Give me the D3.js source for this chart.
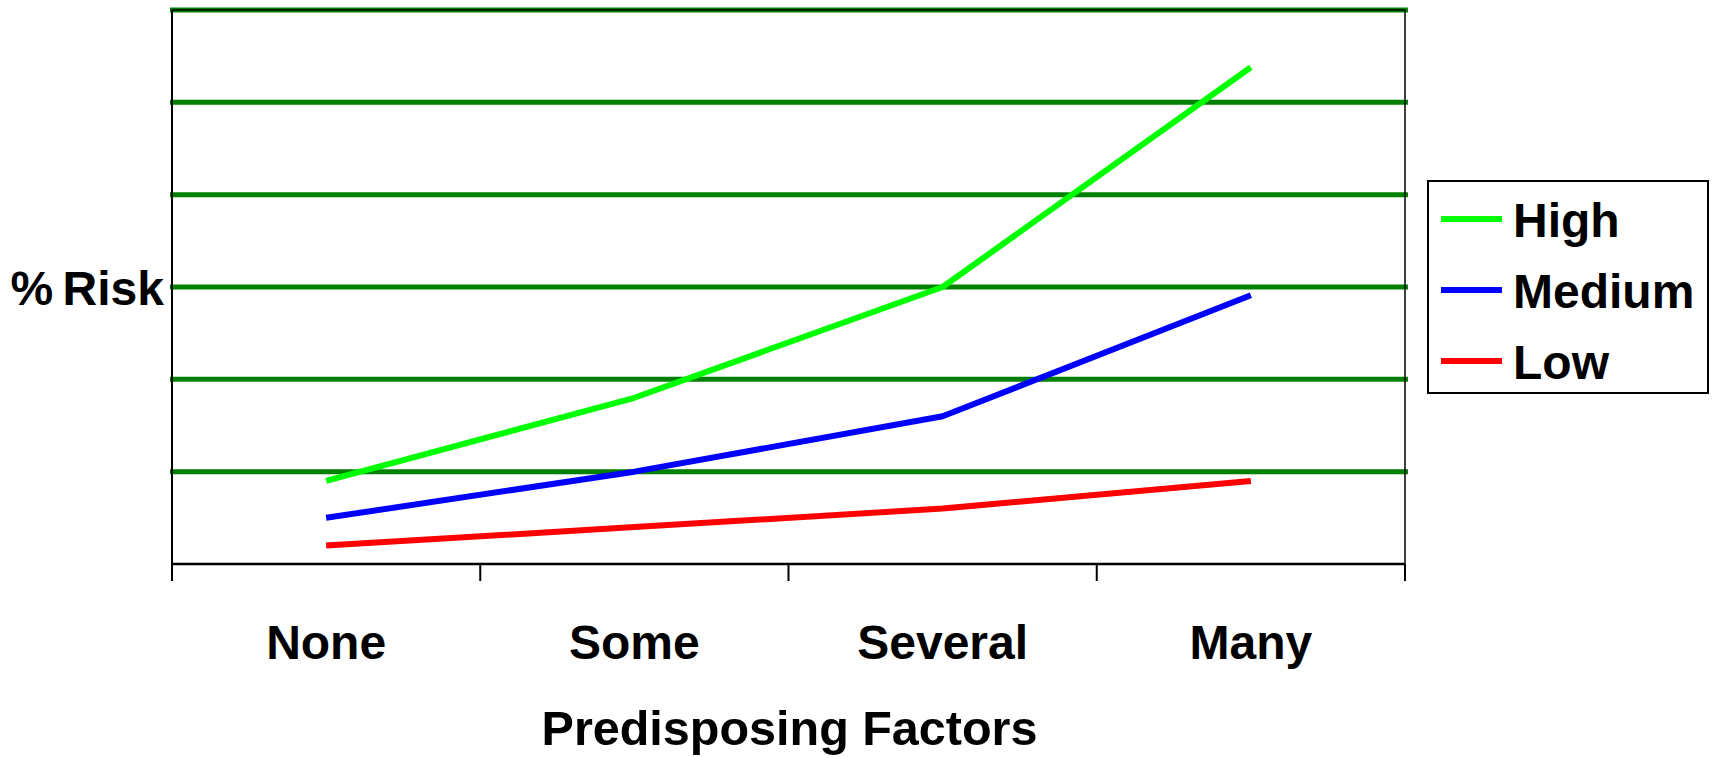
<!DOCTYPE html>
<html>
<head>
<meta charset="utf-8">
<script src="https://cdn.jsdelivr.net/npm/d3@7"></script>
<style>
  html, body { margin: 0; padding: 0; background: #fff; }
  svg { display: block; font-family: "Liberation Sans", Arial, sans-serif; font-weight: bold; }
</style>
</head>
<body>
<svg id="chart" width="1715" height="758"></svg>
<script>
const categories = ["None", "Some", "Several", "Many"];
const seriesNames = ["High", "Medium", "Low"];
const highValues = [0.9, 1.8, 3.0, 5.38];
const mediumValues = [0.5, 1.0, 1.6, 2.91];
const lowValues = [0.2, 0.4, 0.6, 0.9];
const seriesColors = ["#00ff00", "#0000ff", "#ff0000"];
const gridValues = [1, 2, 3, 4, 5, 6];
const yTitle = "% Risk";
const xTitle = "Predisposing Factors";

(function () {
const series = [
  { name: seriesNames[0], values: highValues, color: seriesColors[0] },
  { name: seriesNames[1], values: mediumValues, color: seriesColors[1] },
  { name: seriesNames[2], values: lowValues, color: seriesColors[2] }
];

const svg = d3.select("#chart");
const pLeft = 172, pRight = 1405, pTop = 10, pBottom = 564;

const x = d3.scaleBand().domain(categories).range([pLeft, pRight]).padding(0);
const xc = c => x(c) + x.bandwidth() / 2;
const y = d3.scaleLinear().domain([0, 6]).range([pBottom, pTop]);

// gridlines
svg.append("g").selectAll("line").data(gridValues).join("line")
  .attr("x1", pLeft - 2).attr("x2", pRight + 3)
  .attr("y1", d => y(d)).attr("y2", d => y(d))
  .attr("stroke", "#008000").attr("stroke-width", 5);

// plot frame (black)
svg.append("line").attr("x1", pLeft).attr("x2", pRight).attr("y1", pTop).attr("y2", pTop)
  .attr("stroke", "#000").attr("stroke-width", 1.5);
svg.append("line").attr("x1", pRight).attr("x2", pRight).attr("y1", pTop).attr("y2", pBottom)
  .attr("stroke", "#000").attr("stroke-width", 1.5);
svg.append("line").attr("x1", pLeft).attr("x2", pLeft).attr("y1", pTop).attr("y2", pBottom)
  .attr("stroke", "#000").attr("stroke-width", 2);

// x axis with ticks at band boundaries
const boundaries = categories.map(c => x(c)).concat([pRight]);
svg.append("line").attr("x1", pLeft).attr("x2", pRight).attr("y1", pBottom).attr("y2", pBottom)
  .attr("stroke", "#000").attr("stroke-width", 2.5);
svg.append("g").selectAll("line").data(boundaries).join("line")
  .attr("x1", d => d).attr("x2", d => d).attr("y1", pBottom).attr("y2", pBottom + 17)
  .attr("stroke", "#000").attr("stroke-width", 2);

// category labels
svg.append("g").selectAll("text").data(categories).join("text")
  .attr("x", d => xc(d)).attr("y", 659)
  .attr("text-anchor", "middle").attr("font-size", 48).attr("fill", "#000")
  .text(d => d);

// series lines
const line = d3.line().x((d, i) => xc(categories[i])).y(d => y(d));
svg.append("g").selectAll("path").data(series).join("path")
  .attr("d", d => line(d.values))
  .attr("fill", "none").attr("stroke", d => d.color).attr("stroke-width", 6)
  .attr("stroke-linejoin", "round");

// titles
svg.append("text").attr("x", 164).attr("y", 305).attr("text-anchor", "end")
  .attr("font-size", 48).attr("word-spacing", -4).attr("fill", "#000").text(yTitle);
svg.append("text").attr("x", (pLeft + pRight) / 2 + 1).attr("y", 745).attr("text-anchor", "middle")
  .attr("font-size", 48.5).attr("fill", "#000").text(xTitle);

// legend
const lg = svg.append("g");
lg.append("rect").attr("x", 1428).attr("y", 181).attr("width", 280).attr("height", 212)
  .attr("fill", "#fff").attr("stroke", "#000").attr("stroke-width", 2);
const ly = d3.scalePoint().domain(seriesNames).range([219, 361]);
const items = lg.selectAll("g").data(series).join("g");
items.append("line").attr("x1", 1441).attr("x2", 1502)
  .attr("y1", d => ly(d.name)).attr("y2", d => ly(d.name))
  .attr("stroke", d => d.color).attr("stroke-width", 6);
items.append("text").attr("x", 1513).attr("y", d => ly(d.name) + 18)
  .attr("font-size", 48).attr("fill", "#000").text(d => d.name);
})();
</script>
</body>
</html>
